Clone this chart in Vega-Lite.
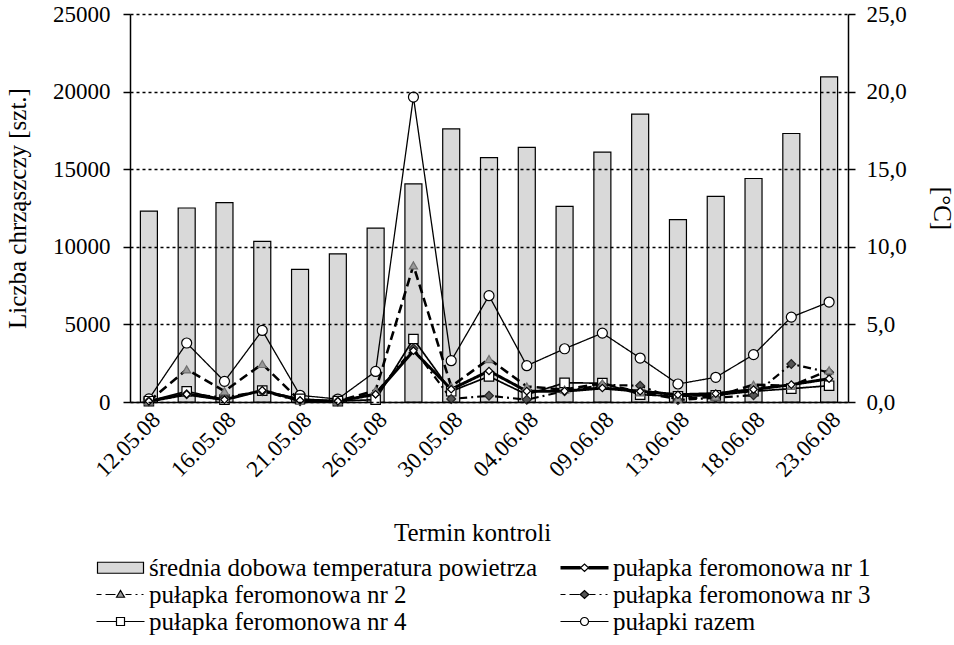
{
  "$schema": "https://vega.github.io/schema/vega-lite/v6.json",
  "width": 718,
  "height": 388,
  "autosize": {"type": "none"},
  "padding": {"left": 130, "top": 14, "right": 106, "bottom": 243},
  "config": {
    "font": "Liberation Serif, serif",
    "view": {"stroke": null},
    "style": {
      "guide-label": {"font": "Liberation Serif, serif", "fill": "black"},
      "guide-title": {"font": "Liberation Serif, serif", "fill": "black", "fontWeight": "normal"}
    },
    "axis": {
      "labelFont": "Liberation Serif, serif",
      "titleFont": "Liberation Serif, serif",
      "labelColor": "black",
      "titleColor": "black",
      "domainColor": "black",
      "tickColor": "black",
      "titleFontWeight": "normal",
      "domainWidth": 1.5,
      "tickWidth": 1.5
    },
    "legend": {
      "labelFont": "Liberation Serif, serif",
      "labelColor": "black"
    }
  },
  "data": {
    "values": [
      {"date": "12.05.08", "temp": 12.3, "pułapki razem": 200, "pułapka feromonowa nr 4": 50, "pułapka feromonowa nr 3": 50, "pułapka feromonowa nr 2": 50, "pułapka feromonowa nr 1": 50},
      {"date": "14.05.08", "temp": 12.5, "pułapki razem": 3800, "pułapka feromonowa nr 4": 690, "pułapka feromonowa nr 3": 500, "pułapka feromonowa nr 2": 2100, "pułapka feromonowa nr 1": 500},
      {"date": "16.05.08", "temp": 12.85, "pułapki razem": 1330, "pułapka feromonowa nr 4": 150, "pułapka feromonowa nr 3": 300, "pułapka feromonowa nr 2": 700, "pułapka feromonowa nr 1": 150},
      {"date": "19.05.08", "temp": 10.35, "pułapki razem": 4610, "pułapka feromonowa nr 4": 730, "pułapka feromonowa nr 3": 700, "pułapka feromonowa nr 2": 2450, "pułapka feromonowa nr 1": 750},
      {"date": "21.05.08", "temp": 8.55, "pułapki razem": 430, "pułapka feromonowa nr 4": 200, "pułapka feromonowa nr 3": 50, "pułapka feromonowa nr 2": 80, "pułapka feromonowa nr 1": 100},
      {"date": "23.05.08", "temp": 9.55, "pułapki razem": 190, "pułapka feromonowa nr 4": 60, "pułapka feromonowa nr 3": 30, "pułapka feromonowa nr 2": 50, "pułapka feromonowa nr 1": 50},
      {"date": "26.05.08", "temp": 11.2, "pułapki razem": 1970, "pułapka feromonowa nr 4": 150, "pułapka feromonowa nr 3": 550, "pułapka feromonowa nr 2": 750, "pułapka feromonowa nr 1": 500},
      {"date": "28.05.08", "temp": 14.05, "pułapki razem": 19650, "pułapka feromonowa nr 4": 4060, "pułapka feromonowa nr 3": 3450, "pułapka feromonowa nr 2": 8800, "pułapka feromonowa nr 1": 3300},
      {"date": "30.05.08", "temp": 17.6, "pułapki razem": 2660, "pułapka feromonowa nr 4": 690, "pułapka feromonowa nr 3": 200, "pułapka feromonowa nr 2": 1000, "pułapka feromonowa nr 1": 820},
      {"date": "02.06.08", "temp": 15.75, "pułapki razem": 6850, "pułapka feromonowa nr 4": 1650, "pułapka feromonowa nr 3": 400, "pułapka feromonowa nr 2": 2770, "pułapka feromonowa nr 1": 2000},
      {"date": "04.06.08", "temp": 16.4, "pułapki razem": 2340, "pułapka feromonowa nr 4": 480, "pułapka feromonowa nr 3": 150, "pułapka feromonowa nr 2": 1000, "pułapka feromonowa nr 1": 700},
      {"date": "06.06.08", "temp": 12.6, "pułapki razem": 3430, "pułapka feromonowa nr 4": 1230, "pułapka feromonowa nr 3": 700, "pułapka feromonowa nr 2": 800, "pułapka feromonowa nr 1": 700},
      {"date": "09.06.08", "temp": 16.1, "pułapki razem": 4440, "pułapka feromonowa nr 4": 1220, "pułapka feromonowa nr 3": 1100, "pułapka feromonowa nr 2": 1200, "pułapka feromonowa nr 1": 900},
      {"date": "11.06.08", "temp": 18.55, "pułapki razem": 2830, "pułapka feromonowa nr 4": 470, "pułapka feromonowa nr 3": 1050, "pułapka feromonowa nr 2": 620, "pułapka feromonowa nr 1": 690},
      {"date": "13.06.08", "temp": 11.75, "pułapki razem": 1160, "pułapka feromonowa nr 4": 360, "pułapka feromonowa nr 3": 130, "pułapka feromonowa nr 2": 200, "pułapka feromonowa nr 1": 470},
      {"date": "16.06.08", "temp": 13.25, "pułapki razem": 1590, "pułapka feromonowa nr 4": 430, "pułapka feromonowa nr 3": 270, "pułapka feromonowa nr 2": 350, "pułapka feromonowa nr 1": 540},
      {"date": "18.06.08", "temp": 14.4, "pułapki razem": 3050, "pułapka feromonowa nr 4": 690, "pułapka feromonowa nr 3": 440, "pułapka feromonowa nr 2": 1120, "pułapka feromonowa nr 1": 800},
      {"date": "20.06.08", "temp": 17.3, "pułapki razem": 5470, "pułapka feromonowa nr 4": 860, "pułapka feromonowa nr 3": 2450, "pułapka feromonowa nr 2": 1040, "pułapka feromonowa nr 1": 1120},
      {"date": "23.06.08", "temp": 20.95, "pułapki razem": 6440, "pułapka feromonowa nr 4": 1050, "pułapka feromonowa nr 3": 1910, "pułapka feromonowa nr 2": 2040, "pułapka feromonowa nr 1": 1500}
    ]
  },
  "encoding": {
    "x": {
      "field": "date",
      "type": "ordinal",
      "scale": {
        "domain": ["12.05.08", "14.05.08", "16.05.08", "19.05.08", "21.05.08", "23.05.08", "26.05.08", "28.05.08", "30.05.08", "02.06.08", "04.06.08", "06.06.08", "09.06.08", "11.06.08", "13.06.08", "16.06.08", "18.06.08", "20.06.08", "23.06.08"],
        "paddingInner": 0.55,
        "paddingOuter": 0.275
      },
      "axis": {
        "title": "Termin kontroli",
        "values": ["12.05.08", "16.05.08", "21.05.08", "26.05.08", "30.05.08", "04.06.08", "09.06.08", "13.06.08", "18.06.08", "23.06.08"],
        "labelAngle": -45,
        "labelFont": "Liberation Serif, serif",
        "titleFont": "Liberation Serif, serif",
        "labelFontSize": 23,
        "ticks": false,
        "labelPadding": 6,
        "titleFontSize": 25,
        "titleX": 342,
        "titleY": 138,
        "titleBaseline": "alphabetic",
        "grid": false
      }
    }
  },
  "layer": [
    {
      "mark": {"type": "bar", "fill": "#d9d9d9", "stroke": "black", "strokeWidth": 1.2},
      "encoding": {
        "y": {
          "field": "temp",
          "type": "quantitative",
          "scale": {"domain": [0, 25], "nice": false},
          "axis": {
            "orient": "right",
            "title": "[°C]",
            "values": [0, 5, 10, 15, 20, 25],
            "labelExpr": "replace(format(datum.value, '.1f'), '.', ',')",
            "labelFont": "Liberation Serif, serif",
            "titleFont": "Liberation Serif, serif",
            "labelFontSize": 23,
            "titleFontSize": 25,
            "tickSize": 7,
            "labelPadding": 11,
            "grid": false,
            "titleX": 80
          }
        }
      }
    },
    {
      "transform": [
        {"fold": ["pułapki razem", "pułapka feromonowa nr 4", "pułapka feromonowa nr 3", "pułapka feromonowa nr 2", "pułapka feromonowa nr 1"], "as": ["series", "count"]}
      ],
      "encoding": {
        "y": {
          "field": "count",
          "type": "quantitative",
          "scale": {"domain": [0, 25000], "nice": false},
          "axis": {
            "orient": "left",
            "title": "Liczba chrząszczy [szt.]",
            "values": [0, 5000, 10000, 15000, 20000, 25000],
            "format": "d",
            "labelFont": "Liberation Serif, serif",
            "titleFont": "Liberation Serif, serif",
            "labelFontSize": 23,
            "titleFontSize": 25,
            "tickSize": 7,
            "labelPadding": 13,
            "grid": true,
            "gridColor": "black",
            "gridDash": [3, 3],
            "gridWidth": 1.3,
            "titleX": -100,
            "zindex": 1
          }
        }
      },
      "layer": [
        {
          "mark": {"type": "line"},
          "encoding": {
            "color": {
              "field": "series",
              "type": "nominal",
              "scale": {
                "domain": ["średnia dobowa temperatura powietrza", "pułapka feromonowa nr 1", "pułapka feromonowa nr 2", "pułapka feromonowa nr 3", "pułapka feromonowa nr 4", "pułapki razem"],
                "range": ["#000000", "#000000", "#000000", "#000000", "#000000", "#000000"]
              },
              "legend": {
                "orient": "none",
                "direction": "horizontal",
                "legendX": -39,
                "legendY": 541,
                "columns": 2,
                "title": null,
                "labelFont": "Liberation Serif, serif",
                "labelFontSize": 25,
                "labelColor": "black",
                "labelLimit": 600,
                "symbolSize": 100,
                "symbolStrokeWidth": 1.2,
                "symbolOffset": 17,
                "labelOffset": 16,
                "columnPadding": 17,
                "rowPadding": 1,
                "padding": 0,
                "encode": {
                  "labels": {
                    "update": {
                      "font": {"value": "Liberation Serif, serif"}
                    }
                  },
                  "symbols": {
                    "update": {
                      "shape": {"signal": "['M-4.6,-1.1H4.6V1.1H-4.6Z', 'M-4.8,-0.22H-0.8M-4.8,0H-0.8M-4.8,0.22H-0.8M0.8,-0.22H4.8M0.8,0H4.8M0.8,0.22H4.8M-0.8,0L0,-0.75L0.8,0L0,0.75Z', 'M-4.8,0H-3.8M-3.0,0H-1.0M1.0,0H2.2M3.0,0H3.4M4.2,0H4.6M-0.8,0.55L0,-0.8L0.8,0.55Z', 'M-4.8,0H-3.8M-3.0,0H-1.0M1.0,0H2.2M3.0,0H3.4M4.2,0H4.6M-0.85,0L0,-0.8L0.85,0L0,0.8Z', 'M-4.8,0H-0.8M0.8,0H4.8M-0.8,-0.8H0.8V0.8H-0.8Z', 'M-4.8,0H-0.8M0.8,0H4.8M0.8,0A0.8,0.8,0,1,1,-0.8,0A0.8,0.8,0,1,1,0.8,0Z'][datum.index]"},
                      "fill": {"signal": "['#d9d9d9', '#ffffff', '#9a9a9a', '#555555', '#ffffff', '#ffffff'][datum.index]"},
                      "stroke": {"value": "black"},
                      "strokeWidth": {"value": 1.2},
                      "opacity": {"value": 1}
                    }
                  }
                }
              }
            },
            "strokeWidth": {
              "field": "series",
              "type": "nominal",
              "scale": {"domain": ["pułapka feromonowa nr 1", "pułapka feromonowa nr 2", "pułapka feromonowa nr 3", "pułapka feromonowa nr 4", "pułapki razem"], "range": [3, 1.3, 1.3, 1.3, 1.4]},
              "legend": null
            },
            "strokeDash": {
              "field": "series",
              "type": "nominal",
              "scale": {"domain": ["pułapka feromonowa nr 1", "pułapka feromonowa nr 2", "pułapka feromonowa nr 3", "pułapka feromonowa nr 4", "pułapki razem"], "range": [[1, 0], [9, 5], [8, 4, 2, 4], [1, 0], [1, 0]]},
              "legend": null
            }
          }
        },
        {
          "mark": {"type": "point", "filled": true, "strokeWidth": 1.2, "opacity": 1},
          "encoding": {
            "shape": {
              "field": "series",
              "type": "nominal",
              "scale": {"domain": ["pułapka feromonowa nr 1", "pułapka feromonowa nr 2", "pułapka feromonowa nr 3", "pułapka feromonowa nr 4", "pułapki razem"], "range": ["diamond", "triangle-up", "diamond", "square", "circle"]},
              "legend": null
            },
            "fill": {
              "field": "series",
              "type": "nominal",
              "scale": {"domain": ["pułapka feromonowa nr 1", "pułapka feromonowa nr 2", "pułapka feromonowa nr 3", "pułapka feromonowa nr 4", "pułapki razem"], "range": ["#ffffff", "#9a9a9a", "#555555", "#ffffff", "#ffffff"]},
              "legend": null
            },
            "stroke": {
              "field": "series",
              "type": "nominal",
              "scale": {"domain": ["pułapka feromonowa nr 1", "pułapka feromonowa nr 2", "pułapka feromonowa nr 3", "pułapka feromonowa nr 4", "pułapki razem"], "range": ["#000000", "#707070", "#222222", "#000000", "#000000"]},
              "legend": null
            },
            "size": {
              "field": "series",
              "type": "nominal",
              "scale": {"domain": ["pułapka feromonowa nr 1", "pułapka feromonowa nr 2", "pułapka feromonowa nr 3", "pułapka feromonowa nr 4", "pułapki razem"], "range": [55, 100, 80, 100, 130]},
              "legend": null
            }
          }
        }
      ]
    }
  ],
  "resolve": {"scale": {"y": "independent"}}
}
